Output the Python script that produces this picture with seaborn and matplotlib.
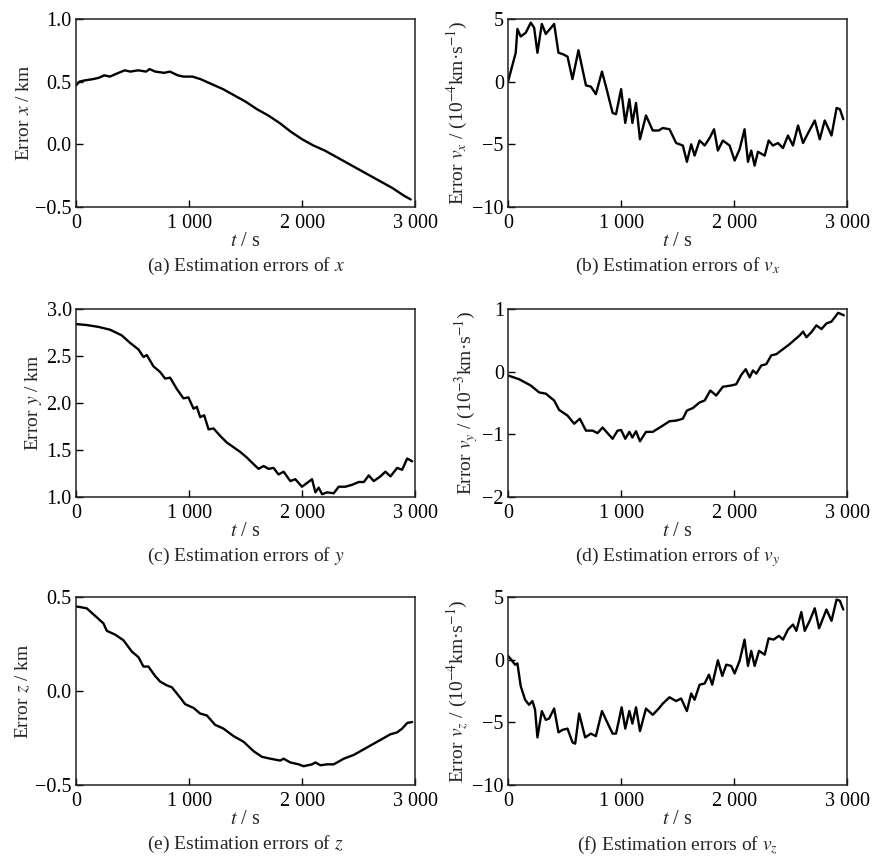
import numpy as np
import matplotlib
matplotlib.use("Agg")
import matplotlib.pyplot as plt
import seaborn as sns
import pandas as pd

# (a) position error x, km
t_x = [0, 30, 80, 150, 200, 250, 300, 350, 430, 480, 550, 620, 650, 700, 780, 830,
       900, 950, 1030, 1100, 1200, 1300, 1400, 1500, 1600, 1700, 1800, 1900, 2000,
       2100, 2200, 2300, 2400, 2500, 2600, 2700, 2800, 2900, 2960]
err_x = [0.47, 0.50, 0.51, 0.52, 0.53, 0.55, 0.54, 0.56, 0.59, 0.58, 0.59, 0.58, 0.60,
         0.58, 0.57, 0.58, 0.55, 0.54, 0.54, 0.52, 0.48, 0.44, 0.39, 0.34, 0.28, 0.23,
         0.17, 0.10, 0.04, -0.01, -0.05, -0.10, -0.15, -0.20, -0.25, -0.30, -0.35,
         -0.41, -0.44]

# (b) velocity error vx, 1e-4 km/s
t_vx = [0, 68, 83, 112, 157, 201, 231, 260, 299, 334, 408, 446, 482, 526, 570, 623,
        689, 733, 777, 831, 872, 925, 955, 1000, 1037, 1073, 1100, 1132, 1167, 1220,
        1280, 1333, 1369, 1428, 1487, 1546, 1582, 1620, 1650, 1694, 1739, 1783, 1822,
        1856, 1900, 1960, 2004, 2048, 2092, 2122, 2151, 2181, 2210, 2270, 2305, 2343,
        2387, 2432, 2476, 2520, 2565, 2609, 2654, 2713, 2757, 2801, 2861, 2906, 2935,
        2965]
err_vx = [0.0, 2.3, 4.2, 3.6, 3.9, 4.7, 4.3, 2.3, 4.6, 3.8, 4.6, 2.3, 2.2, 2.0, 0.2, 2.5,
          -0.3, -0.4, -1.0, 0.8, -0.6, -2.5, -2.6, -0.6, -3.3, -1.4, -3.3, -1.7, -4.6,
          -2.7, -3.9, -3.9, -3.7, -3.8, -4.9, -5.1, -6.4, -5.0, -5.9, -4.7, -5.1, -4.5,
          -3.8, -5.5, -4.7, -5.1, -6.3, -5.4, -3.8, -6.4, -5.5, -6.7, -5.6, -5.9, -4.7,
          -5.1, -4.9, -5.3, -4.3, -5.1, -3.5, -4.9, -4.1, -3.1, -4.6, -3.1, -4.3, -2.1,
          -2.2, -3.0]

# (c) position error y, km
t_y = [0, 94, 198, 301, 404, 478, 552, 596, 626, 685, 744, 788, 832, 891, 950, 994,
       1039, 1068, 1098, 1133, 1172, 1216, 1275, 1334, 1393, 1452, 1511, 1570, 1614,
       1659, 1703, 1747, 1791, 1836, 1895, 1939, 1998, 2043, 2087, 2117, 2146, 2176,
       2220, 2279, 2323, 2382, 2441, 2500, 2545, 2589, 2633, 2692, 2736, 2781, 2840,
       2884, 2929, 2973]
err_y = [2.84, 2.83, 2.81, 2.78, 2.72, 2.64, 2.57, 2.49, 2.51, 2.39, 2.33, 2.26, 2.27,
         2.15, 2.05, 2.06, 1.94, 1.96, 1.85, 1.87, 1.72, 1.73, 1.65, 1.58, 1.53, 1.48,
         1.42, 1.35, 1.30, 1.33, 1.30, 1.31, 1.24, 1.27, 1.17, 1.19, 1.11, 1.15, 1.19,
         1.05, 1.10, 1.03, 1.05, 1.04, 1.11, 1.11, 1.13, 1.16, 1.16, 1.23, 1.17, 1.22,
         1.27, 1.22, 1.31, 1.29, 1.41, 1.38]

# (d) velocity error vy, 1e-3 km/s
t_vy = [0, 98, 201, 275, 334, 408, 452, 526, 585, 635, 689, 748, 792, 836, 880, 925,
        969, 1000, 1037, 1073, 1100, 1132, 1167, 1220, 1280, 1324, 1369, 1428, 1487,
        1546, 1582, 1635, 1694, 1739, 1789, 1841, 1900, 1974, 2018, 2063, 2102, 2137,
        2166, 2196, 2240, 2284, 2328, 2373, 2432, 2491, 2535, 2580, 2609, 2639, 2683,
        2727, 2772, 2816, 2861, 2920, 2970]
err_vy = [-0.06, -0.12, -0.22, -0.33, -0.35, -0.46, -0.61, -0.70, -0.83, -0.75, -0.94,
          -0.94, -0.98, -0.89, -0.98, -1.07, -0.94, -0.93, -1.07, -0.96, -1.05, -0.95,
          -1.11, -0.96, -0.96, -0.91, -0.86, -0.79, -0.78, -0.75, -0.62, -0.58, -0.49,
          -0.46, -0.30, -0.38, -0.24, -0.22, -0.20, -0.05, 0.04, -0.09, 0.02, -0.03,
          0.10, 0.12, 0.26, 0.28, 0.36, 0.44, 0.51, 0.58, 0.64, 0.55, 0.63, 0.74, 0.68,
          0.77, 0.80, 0.94, 0.90]

# (e) position error z, km
t_z = [0, 94, 168, 242, 272, 345, 419, 493, 552, 596, 640, 699, 744, 803, 847, 921,
       965, 1039, 1098, 1157, 1230, 1304, 1393, 1482, 1570, 1644, 1718, 1806, 1836,
       1895, 1969, 2013, 2087, 2117, 2161, 2220, 2279, 2368, 2456, 2545, 2604, 2663,
       2722, 2781, 2840, 2884, 2929, 2973]
err_z = [0.45, 0.44, 0.40, 0.36, 0.32, 0.30, 0.27, 0.21, 0.18, 0.13, 0.13, 0.08, 0.05,
         0.03, 0.02, -0.035, -0.07, -0.09, -0.12, -0.13, -0.18, -0.20, -0.24, -0.27,
         -0.32, -0.35, -0.36, -0.37, -0.36, -0.38, -0.39, -0.40, -0.39, -0.38, -0.395,
         -0.39, -0.39, -0.36, -0.34, -0.31, -0.29, -0.27, -0.25, -0.23, -0.22, -0.20,
         -0.17, -0.165]

# (f) velocity error vz, 1e-4 km/s
t_vz = [0, 33, 62, 83, 112, 151, 186, 216, 239, 260, 299, 334, 363, 408, 446, 482, 526,
        570, 594, 629, 682, 733, 777, 831, 872, 925, 955, 1005, 1037, 1073, 1100, 1132,
        1167, 1220, 1280, 1333, 1369, 1428, 1487, 1531, 1582, 1620, 1650, 1694, 1739,
        1777, 1806, 1856, 1895, 1930, 1974, 2004, 2048, 2092, 2122, 2151, 2181, 2220,
        2270, 2305, 2349, 2396, 2432, 2476, 2520, 2550, 2594, 2624, 2668, 2713, 2751,
        2816, 2861, 2906, 2935, 2965]
err_vz = [0.3, -0.05, -0.4, -0.3, -2.1, -3.2, -3.6, -3.3, -4.0, -6.2, -4.1, -4.8, -4.7,
          -3.9, -5.8, -5.6, -5.5, -6.6, -6.7, -4.3, -6.2, -5.9, -6.1, -4.1, -4.9, -5.9,
          -5.9, -3.8, -5.5, -4.1, -5.1, -3.8, -5.7, -3.9, -4.4, -3.9, -3.5, -3.0, -3.3,
          -3.1, -4.1, -2.7, -3.2, -2.0, -1.9, -1.2, -2.0, -0.05, -1.3, -0.4, -0.5, -1.1,
          -0.1, 1.6, -0.5, 0.7, -0.5, 0.7, 0.4, 1.7, 1.6, 1.9, 1.6, 2.4, 2.8, 2.3, 3.8,
          2.3, 3.1, 4.1, 2.5, 4.0, 3.1, 4.8, 4.7, 4.0]

x_ticks = [0, 1000, 2000, 3000]
x_tick_labels = ["0", "1 000", "2 000", "3 000"]

panels = [
    (t_x, err_x, "Error $x$ / km", "(a) Estimation errors of $x$",
     (-0.5, 1.0), [-0.5, 0.0, 0.5, 1.0], "{:.1f}"),
    (t_vx, err_vx, "Error $v_x$ / (10$^{-4}$km·s$^{-1}$)", "(b) Estimation errors of $v_x$",
     (-10, 5), [-10, -5, 0, 5], "{:.0f}"),
    (t_y, err_y, "Error $y$ / km", "(c) Estimation errors of $y$",
     (1.0, 3.0), [1.0, 1.5, 2.0, 2.5, 3.0], "{:.1f}"),
    (t_vy, err_vy, "Error $v_y$ / (10$^{-3}$km·s$^{-1}$)", "(d) Estimation errors of $v_y$",
     (-2, 1), [-2, -1, 0, 1], "{:.0f}"),
    (t_z, err_z, "Error $z$ / km", "(e) Estimation errors of $z$",
     (-0.5, 0.5), [-0.5, 0.0, 0.5], "{:.1f}"),
    (t_vz, err_vz, "Error $v_z$ / (10$^{-4}$km·s$^{-1}$)", "(f) Estimation errors of $v_z$",
     (-10, 5), [-10, -5, 0, 5], "{:.0f}"),
]

sns.set_style("ticks")
plt.rcParams['font.family'] = ['Liberation Serif', 'DejaVu Serif']
plt.rcParams['mathtext.fontset'] = 'stix'
plt.rcParams['axes.unicode_minus'] = True

fig = plt.figure(figsize=(8.72, 8.57), dpi=100)
lefts = [0.0872, 0.5826]
bottoms = [0.7585, 0.42, 0.084]
w, h = 0.389, 0.2194

for i, (t, e, ylab, cap, ylim, yt, fmt) in enumerate(panels):
    ax = fig.add_axes([lefts[i % 2], bottoms[i // 2], w, h])
    df = pd.DataFrame({"t": t, "err": e})
    sns.lineplot(data=df, x="t", y="err", ax=ax, color="black", linewidth=1.7,
                 estimator=None, sort=False)
    ax.set_xlim(0, 3000)
    ax.set_ylim(*ylim)
    ax.set_xticks(x_ticks)
    ax.set_xticklabels(x_tick_labels)
    ax.set_yticks(yt)
    ax.set_yticklabels([fmt.format(v).replace("-", "\u2212") for v in yt])
    ax.tick_params(direction="in", length=5, width=1, labelsize=14.5,
                   colors="black")
    ax.tick_params(axis="x", pad=5)
    ax.tick_params(axis="y", pad=3)
    for s in ax.spines.values():
        s.set_linewidth(1.1)
        s.set_color("#222222")
    ax.set_xlabel("$t$ / s", fontsize=14.5, labelpad=-1)
    ax.set_ylabel(ylab, fontsize=14, labelpad=2)
    ax.text(0.5, -0.318, cap, transform=ax.transAxes, ha="center", va="center",
            fontsize=14)

fig.savefig("out.png", dpi=100)
